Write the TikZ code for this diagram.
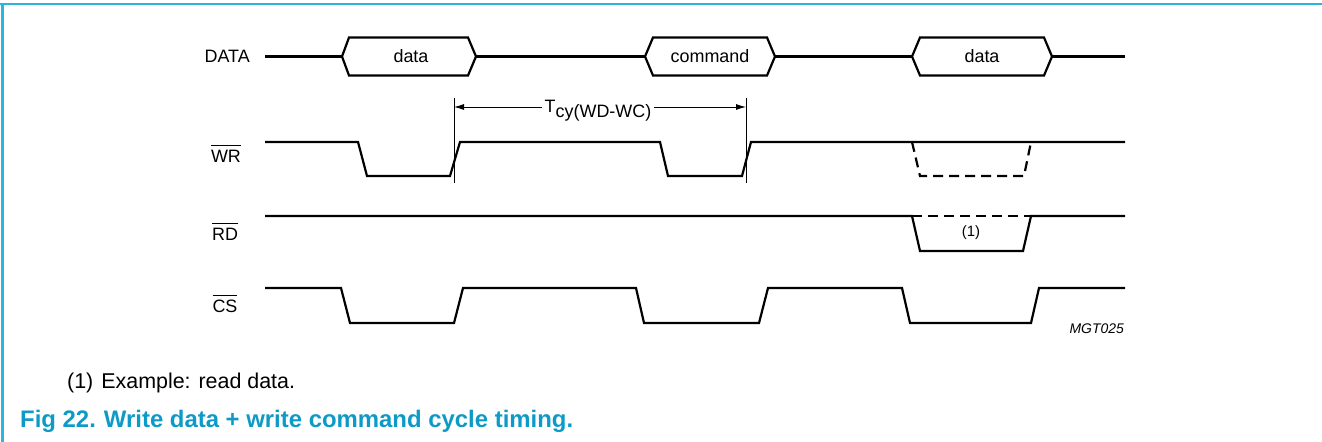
\documentclass[tikz,border=0pt]{standalone}
\usepackage{fontspec}
\setmainfont{Liberation Sans}
\usetikzlibrary{arrows.meta}
\definecolor{framecol}{HTML}{2BB5DA}
\definecolor{capblue}{HTML}{0E9AC6}
\newcommand\ovl[1]{\setbox0\hbox{#1}\rlap{\rule[17.5bp]{\wd0}{0.9bp}}\box0}
\begin{document}
\begin{tikzpicture}[x=1bp,y=-1bp,
  sig/.style={line width=2.2bp, line join=miter},
  dsig/.style={line width=2.2bp, dash pattern=on 10bp off 6bp},
  lbl/.style={font=\fontsize{18}{21}\selectfont, inner sep=0},
  dim/.style={line width=0.9bp},
  dimarr/.style={line width=0.9bp, -{Latex[length=10bp,width=6bp]}},
  bus/.style={sig, line join=miter}]
\useasboundingbox (0,0) rectangle (1322,442);
% frame
\draw[framecol, line width=2bp] (0,4.5) -- (1322,4.5);
\draw[framecol, line width=2bp] (2.5,4.5) -- (2.5,442);

% labels
\node[lbl, anchor=base east] (ldata) at (250,63) {DATA};
\node[lbl, anchor=base] (lwr) at (226,163) {\ovl{WR}};
\node[lbl, anchor=base] (lrd) at (225,241) {\ovl{RD}};
\node[lbl, anchor=base] (lcs) at (225,313) {\ovl{CS}};

% DATA bus
\draw[sig] (265,56.5) -- (342,56.5);
\draw[bus] (342,56.5) -- (349,37.5) -- (468,37.5) -- (476,56.5) -- (468,75.5) -- (349,75.5) -- cycle;
\draw[sig] (476,56.5) -- (645,56.5);
\draw[bus] (645,56.5) -- (653,37.5) -- (767,37.5) -- (775,56.5) -- (767,75.5) -- (653,75.5) -- cycle;
\draw[sig] (775,56.5) -- (912,56.5);
\draw[bus] (912,56.5) -- (920,37.5) -- (1044,37.5) -- (1052,56.5) -- (1044,75.5) -- (920,75.5) -- cycle;
\draw[sig] (1052,56.5) -- (1125,56.5);
\node[lbl, anchor=base] (d1) at (411,63) {data};
\node[lbl, anchor=base] (d2) at (710,63) {command};
\node[lbl, anchor=base] (d3) at (982,63) {data};

% WR
\draw[sig] (265,142) -- (358,142) -- (367,176) -- (450,176) -- (460,142) -- (660,142) -- (668,176) -- (742,176) -- (751,142) -- (1125,142);
\draw[dsig] (912,142) -- (920,176) -- (1024,176) -- (1031,142);

% RD
\draw[sig] (265,216) -- (912,216) -- (920,251) -- (1023,251) -- (1031,216) -- (1125,216);
\draw[dsig] (912,216) -- (1031,216);
\node[font=\fontsize{15}{17}\selectfont, inner sep=0] (n1) at (971,233) {(1)};

% CS
\draw[sig] (265,288) -- (341,288) -- (350,323) -- (454,323) -- (463,288) -- (636,288) -- (644,323) -- (759,323) -- (768,288) -- (902,288) -- (910,323) -- (1031,323) -- (1039,288) -- (1125,288);

% Tcy
\coordinate (tl) at (454,107);
\coordinate (tr) at (746,107);
\draw[dim] (454,98) -- (454,183);
\draw[dim] (746,98) -- (746,183);
\node[lbl, anchor=base, inner sep=3bp] (tcy) at (598,113) {T\raisebox{-5bp}{cy(WD-WC)}};
\draw[dimarr] (tcy.west |- tl) -- (tl);
\draw[dimarr] (tcy.east |- tr) -- (tr);

% code
\node[font=\fontsize{14}{16}\selectfont\itshape, inner sep=0, anchor=base east] (code) at (1124,333) {MGT025};

% footnote & caption
\node[font=\fontsize{21.5}{24}\selectfont, inner sep=0, anchor=base west] (foot) at (67,388) {(1)\hspace{8bp}Example: read data.};
\node[font=\fontsize{24}{27}\selectfont\bfseries, text=capblue, inner sep=0, anchor=base west] (cap) at (20,427) {Fig 22.\hspace{8bp}Write data + write command cycle timing.};
\end{tikzpicture}
\end{document}
